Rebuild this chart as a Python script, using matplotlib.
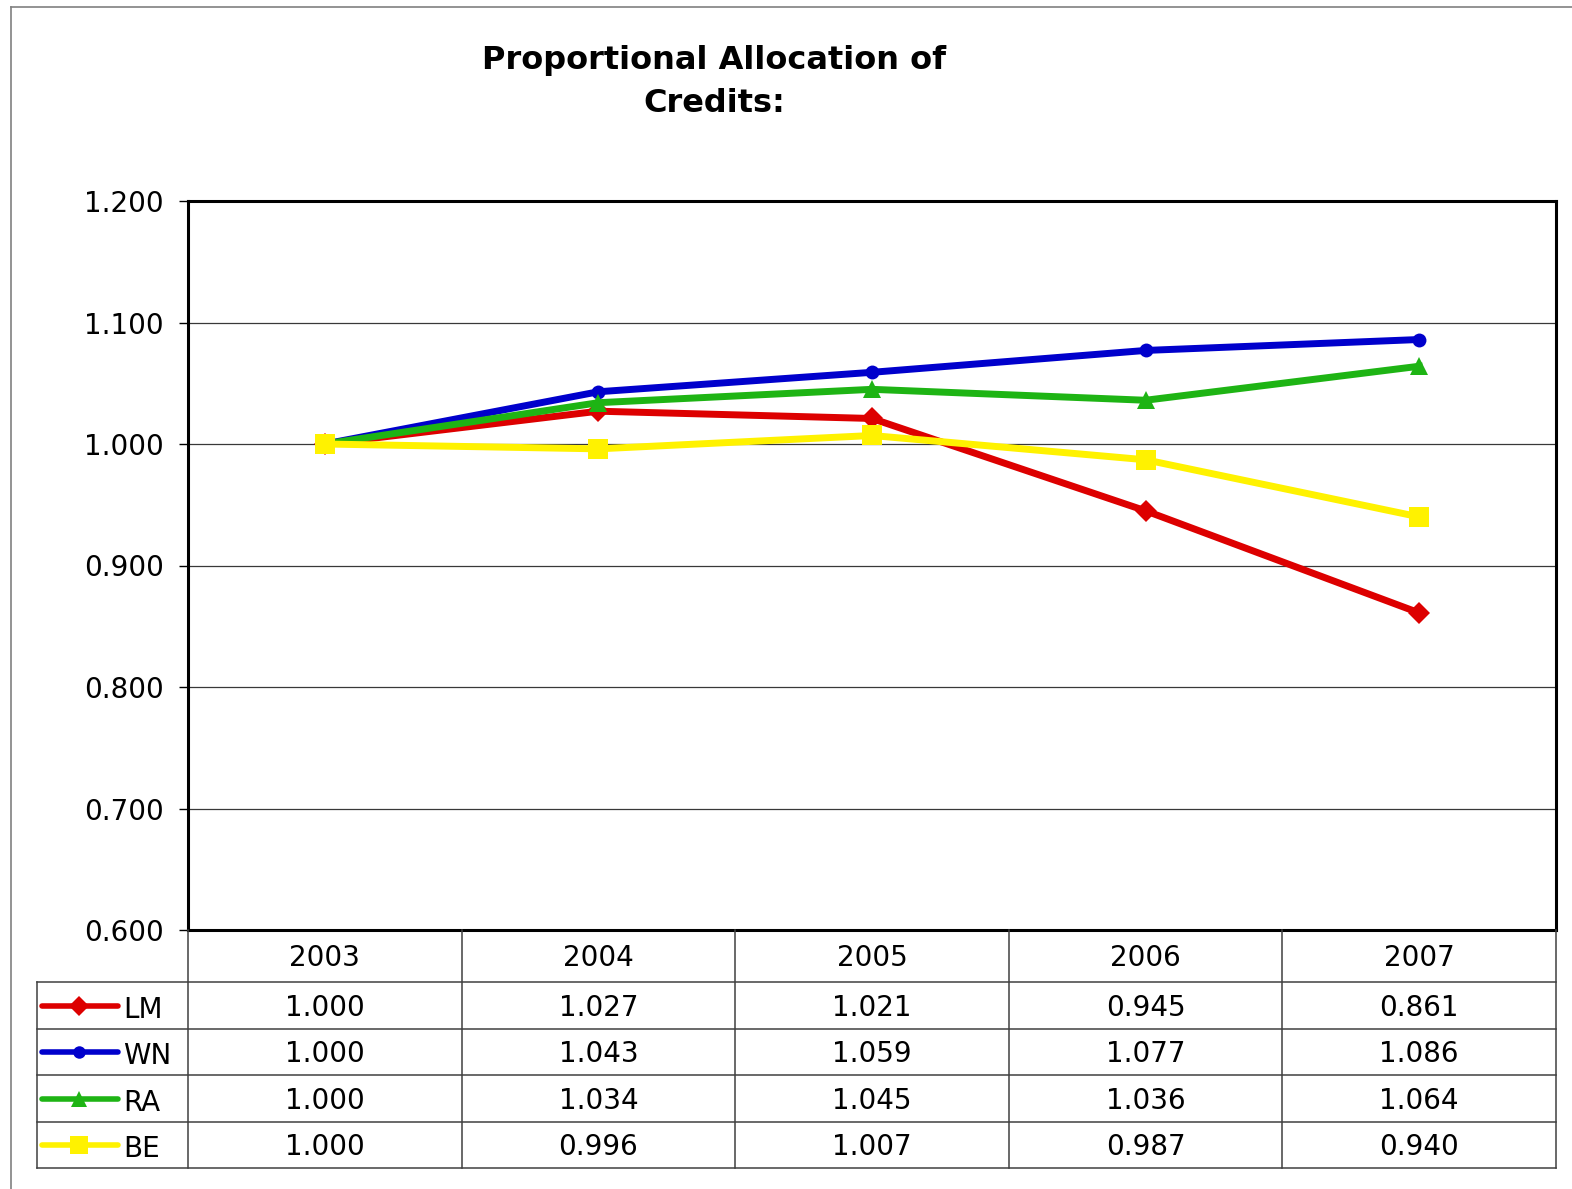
#!/usr/bin/env python
"""Proportional allocation of credits: line chart with an Excel-style data table."""

import matplotlib
matplotlib.use("Agg")
import matplotlib.pyplot as plt
from matplotlib.lines import Line2D

YEARS = ["2003", "2004", "2005", "2006", "2007"]
SERIES = ["LM", "WN", "RA", "BE"]
LM = [1.000, 1.027, 1.021, 0.945, 0.861]
WN = [1.000, 1.043, 1.059, 1.077, 1.086]
RA = [1.000, 1.034, 1.045, 1.036, 1.064]
BE = [1.000, 0.996, 1.007, 0.987, 0.940]
Y_TICKS = [0.6, 0.7, 0.8, 0.9, 1.0, 1.1, 1.2]

COLORS = ["#DD0000", "#0000CC", "#1EB414", "#FFF200"]
MARKERS = ["D", "o", "^", "s"]
MSIZES = [11, 10, 13, 14.5]

W, H = 1572, 1189
plt.rcParams["font.family"] = "DejaVu Sans"


def fx(px):
    return px / W


def fy(py):
    return 1 - py / H


def main() -> int:
    fig = plt.figure(figsize=(W / 100, H / 100), dpi=100)

    # outer chart border
    fig.add_artist(Line2D([fx(11), fx(11)], [fy(7), 0], color="#808080", lw=1.2))
    fig.add_artist(Line2D([fx(11), 1], [fy(7), fy(7)], color="#808080", lw=1.2))

    fig.text(fx(714), fy(60), "Proportional Allocation of", ha="center",
             va="center", fontsize=23, fontweight="bold")
    fig.text(fx(714), fy(103), "Credits:", ha="center",
             va="center", fontsize=23, fontweight="bold")

    left, right, top, bottom = 188, 1556, 201, 930
    ax = fig.add_axes([fx(left), fy(bottom), fx(right - left), (bottom - top) / H])
    data = [LM, WN, RA, BE]
    xs = list(range(len(YEARS)))
    for vals, c, m, ms in zip(data, COLORS, MARKERS, MSIZES):
        ax.plot(xs, vals, color=c, lw=5, marker=m, markersize=ms,
                markeredgewidth=0, zorder=3)
    ax.set_xlim(-0.5, len(YEARS) - 0.5)
    ax.set_ylim(0.6, 1.2)
    ax.set_yticks(Y_TICKS)
    ax.set_yticklabels([f"{v:.3f}" for v in Y_TICKS])
    ax.set_xticks([])
    ax.tick_params(axis="y", length=6.5, width=1, direction="out", pad=11,
                   labelsize=20)
    ax.grid(axis="y", color="#383838", lw=0.9)
    for s in ax.spines.values():
        s.set_linewidth(2.2)
        s.set_color("black")

    # data table underneath, sharing the x scale of the chart
    tb_bottom = 1168
    row_edges = [bottom, 982, 1028.5, 1075, 1121.5, tb_bottom]
    tab = fig.add_axes([fx(left), fy(tb_bottom), fx(right - left), (tb_bottom - bottom) / H])
    tab.set_xlim(-0.5, len(YEARS) - 0.5)
    tab.set_ylim(tb_bottom, bottom)
    tab.axis("off")
    col_w = (right - left) / len(YEARS)

    def px_to_x(px):
        return -0.5 + (px - left) / col_w

    lab_left = px_to_x(37)
    kw = dict(color="#404040", lw=1.1, clip_on=False)
    for i in range(len(YEARS) + 1):
        tab.plot([i - 0.5, i - 0.5], [bottom, tb_bottom], **kw)
    tab.plot([lab_left, lab_left], [row_edges[1], tb_bottom], **kw)
    for ry in row_edges[1:]:
        tab.plot([lab_left, len(YEARS) - 0.5], [ry, ry], **kw)

    for j, yr in enumerate(YEARS):
        tab.text(j, 958, yr, ha="center", va="center", fontsize=20)
    for r, (name, vals, c, m, ms) in enumerate(zip(SERIES, data, COLORS, MARKERS, MSIZES)):
        yc = (row_edges[r + 1] + row_edges[r + 2]) / 2 + 2.5
        for j, v in enumerate(vals):
            tab.text(j, yc, f"{v:.3f}", ha="center", va="center", fontsize=20)
        tab.plot([px_to_x(42), px_to_x(118)], [yc - 2, yc - 2], color=c, lw=4,
                 solid_capstyle="round", clip_on=False)
        tab.plot([px_to_x(79)], [yc - 2], color=c, marker=m, markersize=ms - 1,
                 markeredgewidth=0, clip_on=False)
        tab.text(px_to_x(123), yc + 2, name, ha="left", va="center", fontsize=20)

    fig.savefig("out.png", dpi=100)
    plt.close(fig)
    return 0


if __name__ == "__main__":
    raise SystemExit(main())
